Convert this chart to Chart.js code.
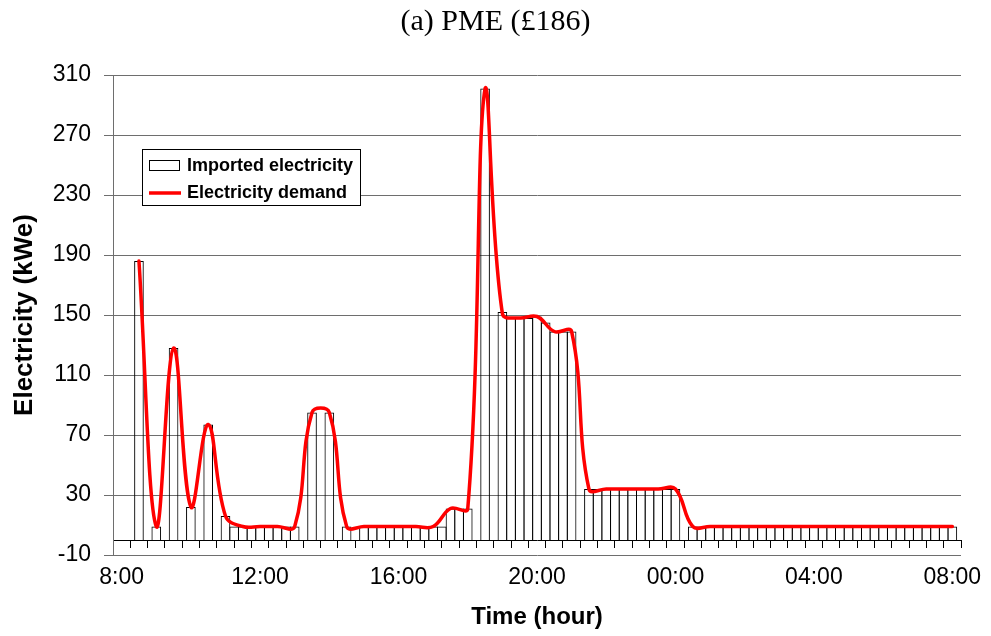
<!DOCTYPE html>
<html>
<head>
<meta charset="utf-8">
<title>(a) PME (£186)</title>
<script src="https://cdn.jsdelivr.net/npm/chart.js@4.4.1/dist/chart.umd.min.js"></script>
<style>
  html, body { margin: 0; padding: 0; background: #fff; }
  #chart { display: block; }
</style>
</head>
<body>
<canvas id="chart" width="991" height="636"></canvas>
<script>
// imported electricity (kWe), one bar per 15 min starting at 08:00
var imported = [
  0, 0, 186, 0, 9, 0, 128, 0, 22, 0, 77, 0,            // 08:00 - 10:45
  16, 9, 9, 9, 9, 9, 9, 9, 9, 0, 85, 0,                // 11:00 - 13:45
  85, 0, 9, 0, 9, 9, 9, 9, 9, 9, 9, 9,                 // 14:00 - 16:45
  9, 9, 21, 21, 21, 0, 301, 0, 152, 148, 148, 148,     // 17:00 - 19:45
  149, 145, 139, 139, 139, 0, 34, 34, 34, 34, 34, 34,  // 20:00 - 22:45
  34, 34, 34, 34, 34, 0, 9, 9, 9, 9, 9, 9,             // 23:00 - 01:45
  9, 9, 9, 9, 9, 9, 9, 9, 9, 9, 9, 9,                  // 02:00 - 04:45
  9, 9, 9, 9, 9, 9, 9, 9, 9, 9, 9, 9,                  // 05:00 - 07:45
  9                                                    // 08:00
];

// electricity demand (kWe), half-hourly starting at 08:00
var demand = [
  null, 186, 9, 128, 22, 77, 16, 9,      // 08:00 - 11:30
  9, 9, 9, 85, 85, 9, 9, 9,              // 12:00 - 15:30
  9, 9, 9, 21, 21, 301, 151, 148,        // 16:00 - 19:30
  149, 139, 139, 34, 34, 34, 34, 34,     // 20:00 - 23:30
  34, 9, 9, 9, 9, 9, 9, 9,               // 00:00 - 03:30
  9, 9, 9, 9, 9, 9, 9, 9,                // 04:00 - 07:30
  9                                      // 08:00
];

// x positions are counted in 15 min slots from 08:00
var tickSlots = [0, 16, 32, 48, 64, 80, 96];
var tickLabels = ['8:00', '12:00', '16:00', '20:00', '00:00', '04:00', '08:00'];

var barPoints = imported.map(function (v, i) { return { x: i, y: v }; });
var linePoints = demand.map(function (v, i) { return { x: i * 2, y: v }; });

Chart.defaults.font.family = '"Liberation Sans", Arial, sans-serif';
Chart.defaults.color = '#000';

var gridGrey = '#6e6e6e';

// boxed legend sitting inside the plot, top left
var boxLegend = {
  id: 'boxLegend',
  afterDraw: function (chart) {
    var ctx = chart.ctx;
    var area = chart.chartArea;
    var bars = chart.data.datasets[1];
    var line = chart.data.datasets[0];
    var x = Math.round(area.left + 29);
    var y = Math.round(area.top + 74);
    ctx.save();
    ctx.fillStyle = '#fff';
    ctx.fillRect(x, y, 218, 56);
    ctx.strokeStyle = '#000';
    ctx.lineWidth = 1;
    ctx.strokeRect(x + 0.5, y + 0.5, 218, 56);
    ctx.strokeRect(x + 7.5, y + 11.5, 30, 10);
    ctx.strokeStyle = line.borderColor;
    ctx.lineWidth = line.borderWidth;
    ctx.beginPath();
    ctx.moveTo(x + 7, y + 44);
    ctx.lineTo(x + 39, y + 44);
    ctx.stroke();
    ctx.fillStyle = '#000';
    ctx.font = 'bold 18px "Liberation Sans", Arial, sans-serif';
    ctx.textBaseline = 'middle';
    ctx.fillText(bars.label, x + 45, y + 17);
    ctx.fillText(line.label, x + 45, y + 44);
    ctx.restore();
  }
};

new Chart(document.getElementById('chart'), {
  type: 'bar',
  data: {
    datasets: [
      {
        type: 'line',
        label: 'Electricity demand',
        data: linePoints,
        borderColor: '#ff0000',
        borderWidth: 3.5,
        borderCapStyle: 'round',
        borderJoinStyle: 'round',
        pointRadius: 0,
        tension: 0.4,
        fill: false,
        order: 1
      },
      {
        type: 'bar',
        label: 'Imported electricity',
        data: barPoints,
        backgroundColor: 'rgba(0,0,0,0)',
        borderColor: '#000',
        borderWidth: 1,
        barPercentage: 1.115,
        categoryPercentage: 1,
        order: 2
      }
    ]
  },
  options: {
    responsive: false,
    animation: false,
    events: [],
    layout: { padding: 0 },
    plugins: {
      legend: { display: false },
      tooltip: { enabled: false },
      title: {
        display: true,
        text: '(a) PME (£186)',
        color: '#000',
        font: { family: '"Liberation Serif", "Times New Roman", serif', size: 30, weight: 'normal' },
        padding: { top: 4.5, bottom: 34.5 }
      }
    },
    scales: {
      x: {
        type: 'linear',
        position: 'bottom',
        offset: false,
        min: -1,
        max: 97,
        grid: { display: false, drawTicks: false, offset: false },
        border: { display: false },
        ticks: {
          font: { size: 23 },
          padding: 9,
          autoSkip: false,
          maxRotation: 0,
          callback: function (v, i) { return tickLabels[i]; }
        },
        afterBuildTicks: function (s) {
          s.ticks = tickSlots.map(function (v) { return { value: v }; });
        },
        title: {
          display: true,
          text: 'Time (hour)',
          font: { size: 24, weight: 'bold' },
          padding: { top: 0, bottom: 4 }
        },
        afterFit: function (s) { s.height = 81; }
      },
      // axis line crossing at zero, with a tick every half hour
      x0: {
        type: 'linear',
        axis: 'x',
        position: { y: 0 },
        offset: false,
        min: -1,
        max: 97,
        ticks: { display: false, stepSize: 2 },
        grid: { drawOnChartArea: false, drawTicks: true, tickLength: 7, color: '#000', offset: false },
        border: { color: '#000' }
      },
      y: {
        min: -10,
        max: 310,
        ticks: { stepSize: 40, font: { size: 23 }, padding: 13 },
        grid: { color: gridGrey, tickLength: 9 },
        border: { color: gridGrey },
        title: {
          display: true,
          text: 'Electricity (kWe)',
          font: { size: 26, weight: 'bold' },
          padding: { top: 9, bottom: 0 }
        },
        afterFit: function (s) { s.width = 113; }
      },
      yPad: {
        type: 'linear',
        axis: 'y',
        position: 'right',
        ticks: { display: false },
        grid: { display: false },
        border: { display: false },
        afterFit: function (s) { s.width = 30; }
      }
    }
  },
  plugins: [boxLegend]
});
</script>
</body>
</html>
